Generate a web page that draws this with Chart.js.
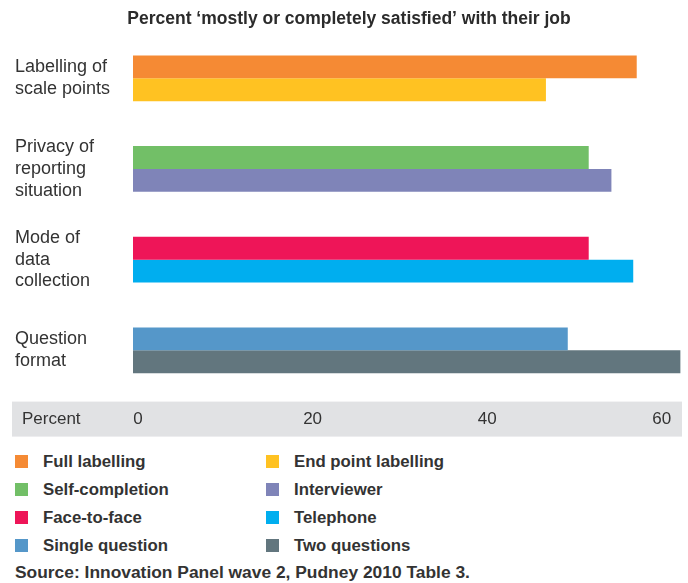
<!DOCTYPE html>
<html>
<head>
<meta charset="utf-8">
<script src="https://cdn.jsdelivr.net/npm/chart.js@4"></script>
<style>
  body { margin: 0; background: #fff; font-family: "Liberation Sans", Arial, sans-serif; color: #333; }
  #wrap { position: absolute; left: 0; top: 0; width: 688px; height: 443px; }
  #legend { position: absolute; left: 0; top: 452px; width: 688px; }
  .item { position: absolute; font-weight: bold; font-size: 16.8px; line-height: 20px; white-space: nowrap; }
  .item span.box { position: absolute; top: 3px; width: 13px; height: 13px; }
  #source { position: absolute; left: 15px; top: 562px; font-weight: bold; font-size: 17.4px; line-height: 20px; }
</style>
</head>
<body>
<div id="wrap"><canvas id="chart"></canvas></div>
<div id="legend"></div>
<div id="source">Source: Innovation Panel wave 2, Pudney 2010 Table 3.</div>
<script>
// groups on the y axis, two bars each
const groups = [
  ["Labelling of", "scale points"],
  ["Privacy of", "reporting", "situation"],
  ["Mode of", "data", "collection"],
  ["Question", "format"],
];
const firstNames = ["Full labelling", "Self-completion", "Face-to-face", "Single question"];
const secondNames = ["End point labelling", "Interviewer", "Telephone", "Two questions"];
const firstValues = [57.7, 52.2, 52.2, 49.8];
const secondValues = [47.3, 54.8, 57.3, 62.7];
const firstColors = ["#F58A34", "#72BF67", "#EE1558", "#5597C9"];
const secondColors = ["#FFC222", "#7F84B8", "#00AEEF", "#62767E"];
const xTicks = [0, 20, 40, 60];

const font = "'Liberation Sans', Arial, sans-serif";

// grey strip behind the x axis labels
const axisBand = {
  id: "axisBand",
  beforeDraw(chart) {
    const { ctx, chartArea } = chart;
    const top = chartArea.bottom + 6;
    ctx.save();
    ctx.fillStyle = "#E1E2E4";
    ctx.fillRect(12, top, 670, 35);
    ctx.fillStyle = "#333";
    ctx.font = "17px " + font;
    ctx.textBaseline = "middle";
    ctx.fillText("Percent", 22, top + 18);
    ctx.restore();
  },
};

const chart = new Chart(document.getElementById("chart"), {
  type: "bar",
  data: {
    labels: groups,
    datasets: [
      { label: "first", data: firstValues, backgroundColor: firstColors, names: firstNames },
      { label: "second", data: secondValues, backgroundColor: secondColors, names: secondNames },
    ],
  },
  options: {
    indexAxis: "y",
    responsive: true,
    maintainAspectRatio: false,
    animation: false,
    layout: { padding: { left: 15, right: 5, bottom: 0 } },
    datasets: { bar: { barPercentage: 1, categoryPercentage: 0.505, borderWidth: 0 } },
    plugins: {
      legend: { display: false },
      title: {
        display: true,
        text: "Percent \u2018mostly or completely satisfied\u2019 with their job",
        color: "#2b2b2b",
        font: { family: font, size: 17.5, weight: "bold" },
        padding: { top: 9, bottom: 3 },
      },
      tooltip: {
        callbacks: {
          label: (c) => c.dataset.names[c.dataIndex] + ": " + c.parsed.x,
        },
      },
    },
    scales: {
      y: {
        grid: { display: false },
        border: { display: false },
        afterFit: (s) => { s.width = 118; },
        ticks: {
          crossAlign: "far",
          color: "#333",
          font: { family: font, size: 18, lineHeight: 1.2 },
        },
      },
      x: {
        min: 0,
        max: 63,
        grid: { display: false, drawTicks: false },
        border: { display: false },
        afterBuildTicks: (s) => { s.ticks = xTicks.map((v) => ({ value: v })); },
        ticks: {
          padding: 13.5,
          labelOffset: 5,
          maxRotation: 0,
          autoSkip: false,
          color: "#333",
          font: { family: font, size: 17 },
        },
      },
    },
  },
  plugins: [axisBand],
});

// two-column legend built from the datasets
const legend = document.getElementById("legend");
chart.data.datasets.forEach((ds, col) => {
  ds.names.forEach((name, row) => {
    const item = document.createElement("div");
    item.className = "item";
    item.style.left = (col === 0 ? 15 : 266) + "px";
    item.style.top = row * 28 + "px";
    item.innerHTML = '<span class="box" style="left:0;background:' + ds.backgroundColor[row] + '"></span>' +
      '<span style="margin-left:28px">' + name + "</span>";
    legend.appendChild(item);
  });
});
</script>
</body>
</html>
